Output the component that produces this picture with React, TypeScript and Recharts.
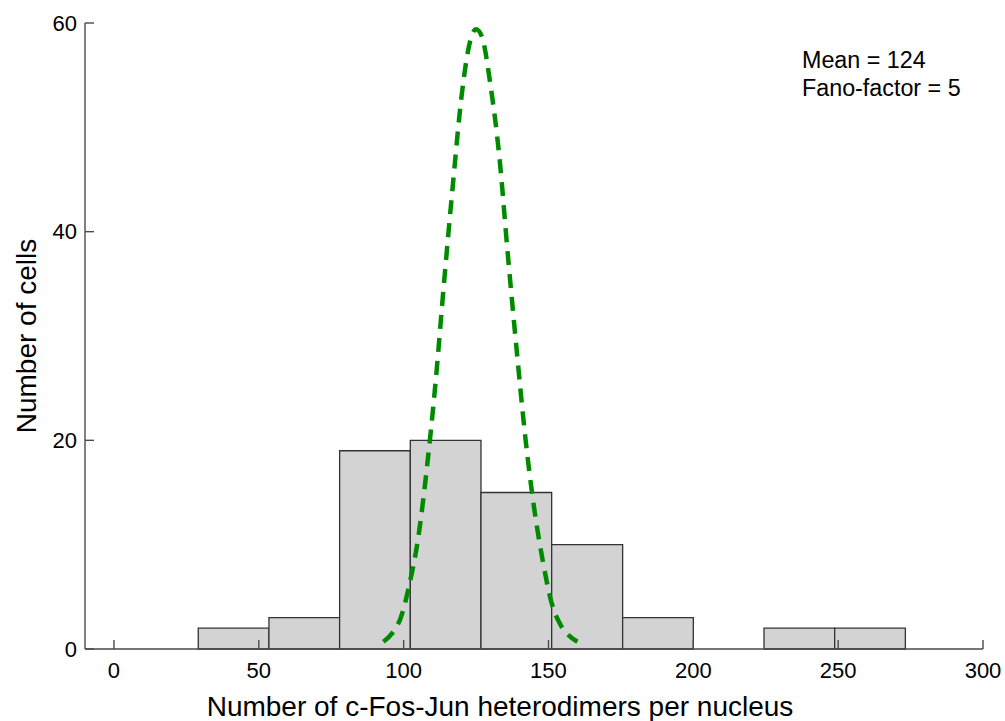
import { ComposedChart, Line, ReferenceArea, XAxis, YAxis } from "recharts";

// histogram bins (edges in molecules per nucleus) and cell counts
const binEdges = [29.1, 53.5, 77.9, 102.3, 126.7, 151.1, 175.6, 200.0, 224.4, 248.8, 273.2];
const binCounts = [2, 3, 19, 20, 15, 10, 3, 0, 2, 2];

// fitted curve
const curveX = [93, 96, 99, 102, 105, 108, 111, 114, 117, 120, 123, 125, 127, 130, 133, 136, 139, 142, 145, 148, 151, 154, 157, 160];
const curveY = [0.7, 1.5, 3.0, 6.2, 10.6, 17.3, 25.5, 35.3, 44.5, 53.0, 58.3, 59.4, 58.7, 54.0, 47.3, 37.7, 28.7, 20.3, 13.6, 8.5, 4.5, 2.4, 1.3, 0.7];

const xTicks = [0, 50, 100, 150, 200, 250, 300];
const yTicks = [0, 20, 40, 60];

const FONT = "'Liberation Sans', Arial, Helvetica, sans-serif";
const AXIS = "#4a4a4a";

const curveData = curveX.map((x, i) => ({ x, y: curveY[i] }));

export default function App() {
  return (
    <div style={{ position: "absolute", left: 0, top: 0, width: 1005, height: 721, background: "#fff", fontFamily: FONT }}>
      <ComposedChart
        width={1005}
        height={721}
        data={curveData}
        margin={{ top: 23, right: 22, bottom: 0, left: 0 }}
      >
        <XAxis
          type="number"
          dataKey="x"
          domain={[-10, 300]}
          ticks={xTicks}
          allowDataOverflow
          height={72}
          tickSize={-9}
          tickMargin={22}
          stroke={AXIS}
          strokeWidth={1.4}
          tick={{ fill: "#000", fontSize: 22, fontFamily: FONT }}
          label={{
            value: "Number of c-Fos-Jun heterodimers per nucleus",
            position: "insideBottom",
            offset: 5,
            dx: -34,
            style: { fill: "#000", fontSize: 28, fontFamily: FONT },
          }}
        />
        <XAxis
          xAxisId="top"
          orientation="top"
          type="number"
          dataKey="x"
          domain={[-10, 300]}
          ticks={xTicks}
          allowDataOverflow
          height={0}
          tickSize={-9}
          stroke={AXIS}
          strokeWidth={1.4}
          tickFormatter={() => ""}
        />
        <YAxis
          type="number"
          domain={[0, 60]}
          ticks={yTicks}
          width={85}
          tickSize={-9}
          tickMargin={17}
          stroke={AXIS}
          strokeWidth={1.4}
          tick={{ fill: "#000", fontSize: 22, fontFamily: FONT }}
          label={{
            value: "Number of cells",
            angle: -90,
            position: "insideLeft",
            offset: 26,
            style: { fill: "#000", fontSize: 28, fontFamily: FONT, textAnchor: "middle" },
          }}
        />
        <YAxis
          yAxisId="right"
          orientation="right"
          type="number"
          domain={[0, 60]}
          ticks={yTicks}
          width={0}
          tickSize={-9}
          stroke={AXIS}
          strokeWidth={1.4}
          tickFormatter={() => ""}
        />
        {binCounts.map((c, i) =>
          c > 0 ? (
            <ReferenceArea
              key={i}
              x1={binEdges[i]}
              x2={binEdges[i + 1]}
              y1={0}
              y2={c}
              fill="#d3d3d3"
              fillOpacity={1}
              stroke="#333"
              strokeWidth={1.3}
              ifOverflow="visible"
            />
          ) : null
        )}
        <Line
          type="monotone"
          dataKey="y"
          stroke="#008a00"
          strokeWidth={4.5}
          strokeDasharray="14 9"
          dot={false}
          activeDot={false}
          isAnimationActive={false}
        />
      </ComposedChart>
      <div
        style={{
          position: "absolute",
          left: 802,
          top: 46,
          fontSize: 23.3,
          lineHeight: "28px",
          color: "#000",
          fontFamily: FONT,
        }}
      >
        <div>Mean = 124</div>
        <div>Fano-factor = 5</div>
      </div>
    </div>
  );
}
